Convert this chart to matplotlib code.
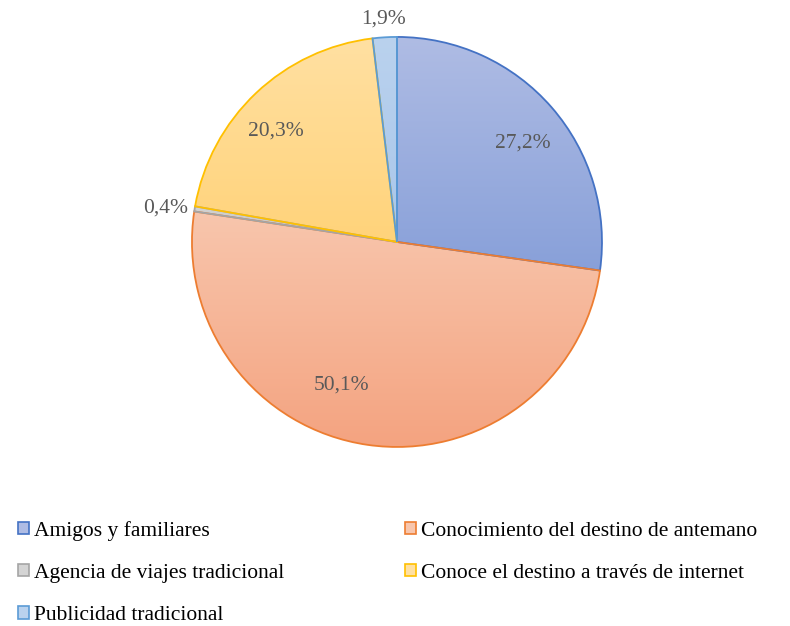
import numpy as np
import matplotlib
matplotlib.use("Agg")
import matplotlib.pyplot as plt
from matplotlib.patches import Patch
from matplotlib.colors import to_rgb

# data
labels = ["Amigos y familiares", "Conocimiento del destino de antemano",
          "Agencia de viajes tradicional", "Conoce el destino a través de internet",
          "Publicidad tradicional"]
values = [27.2, 50.1, 0.4, 20.3, 1.9]
pct_text = ["27,2%", "50,1%", "0,4%", "20,3%", "1,9%"]

# styles
edge_colors = ["#4472c4", "#ed7d31", "#a5a5a5", "#ffc000", "#5b9bd5"]
grad_top = ["#afbce4", "#f8c6ad", "#d4d4d4", "#ffe0a2", "#bad2ee"]
grad_bottom = ["#88a0d9", "#f4a380", "#bdbdbd", "#ffd37a", "#a9c6ea"]
label_r = [0.78, 0.75, 1.03, 0.80, 1.09]
label_dang = [-3, -13, 0, 4, 0]

plt.rcParams['font.family'] = ['Liberation Serif', 'DejaVu Serif']

fig = plt.figure(figsize=(7.9, 6.26), dpi=100)
ax = fig.add_axes([0.243, 0.286, 0.519, 0.655])

wedges, _ = ax.pie(values, startangle=90, counterclock=False, radius=1.0,
                   wedgeprops=dict(linewidth=1.3))

for i, w in enumerate(wedges):
    w.set_facecolor("none")
    w.set_edgecolor(edge_colors[i])
    w.set_zorder(3)
    # vertical gradient clipped to the wedge
    ext = w.get_path().get_extents()
    c0 = np.array(to_rgb(grad_bottom[i]))
    c1 = np.array(to_rgb(grad_top[i]))
    t = np.linspace(0, 1, 256)[:, None, None]
    img = c0 + (c1 - c0) * t
    im = ax.imshow(img, extent=(ext.x0, ext.x1, ext.y0, ext.y1), origin='lower',
                   aspect='auto', zorder=2, interpolation='bilinear')
    im.set_clip_path(w)

    ang = np.deg2rad((w.theta1 + w.theta2) / 2 + label_dang[i])
    x = label_r[i] * np.cos(ang)
    y = label_r[i] * np.sin(ang)
    ha = 'center'
    if label_r[i] > 1 and np.cos(ang) < -0.5:
        ha = 'right'
    ax.text(x, y, pct_text[i], ha=ha, va='center', fontsize=15.5, color="#595959", zorder=5)

ax.set_xlim(-1.0, 1.0)
ax.set_ylim(-1.0, 1.0)
ax.set_aspect('equal')
ax.axis('off')

handles = [Patch(facecolor=grad_top[i], edgecolor=edge_colors[i], linewidth=1.2)
           for i in range(len(labels))]
order = [0, 2, 4, 1, 3]
fig.legend([handles[i] for i in order], [labels[i] for i in order],
           loc='upper left', bbox_to_anchor=(0.012, 0.182), ncol=2, frameon=False,
           fontsize=15.5, handlelength=0.5, handleheight=0.5, handletextpad=0.25,
           labelspacing=1.08, columnspacing=5.6, borderaxespad=0)

fig.savefig("out.png", dpi=100)
